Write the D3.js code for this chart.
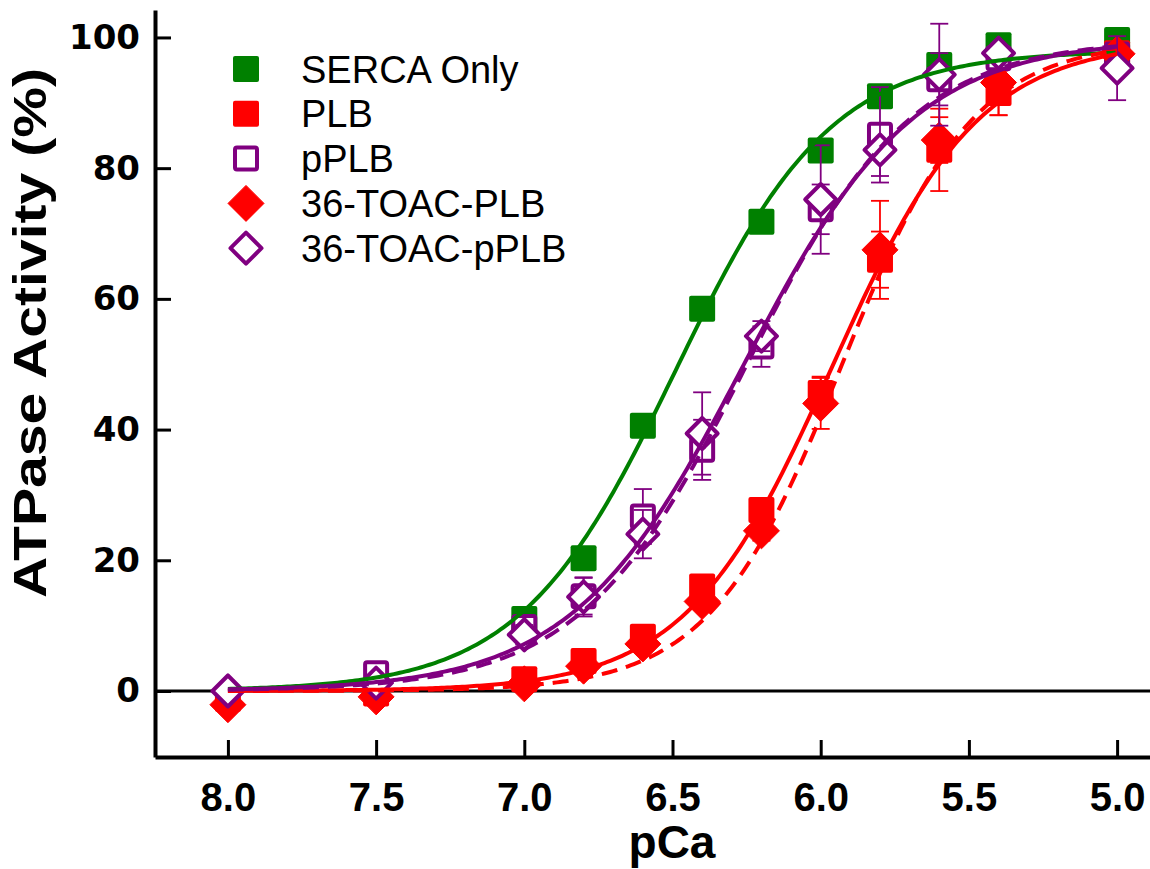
<!DOCTYPE html>
<html>
<head>
<meta charset="utf-8">
<script src="https://cdn.jsdelivr.net/npm/d3@7"></script>
<style>
  body { margin: 0; background: #fff; }
  svg { display: block; }
</style>
</head>
<body>
<svg id="chart" width="1150" height="869"></svg>
<script>
// Calcium dependence of SERCA ATPase activity
const pCa = [8.0, 7.5, 7.0, 6.8, 6.6, 6.4, 6.2, 6.0, 5.8, 5.6, 5.4, 5.0];

const sercaOnly    = [null, null, 11.0, 20.3, 40.6, 58.5, 71.8, 82.7, 91.0, 95.8, 98.8, 99.6];
const sercaErr     = [0, 0, 1.0, 1.0, 1.2, 1.0, 1.0, 1.2, 1.0, 1.0, 0.8, 0.6];

const plb          = [-1.2, -0.4, 1.8, 4.6, 8.3, 16.0, 27.7, 45.6, 66.0, 82.8, 91.5, 97.6];
const plbErr       = [0.5, 0.5, 0.8, 1.0, 1.0, 1.5, 1.5, 2.5, 4.3, 6.3, 3.4, 1.0];

const pplb         = [null, 2.7, 9.8, 14.5, 26.7, 36.9, 52.7, 73.7, 85.1, 93.6, 96.8, 97.4];
const pplbErr      = [0, 1.0, 1.5, 2.8, 4.2, 4.6, 3.1, 3.8, 7.3, 4.0, 1.0, 1.0];

const toacPlb      = [-2.1, -0.9, 1.1, 3.8, 7.2, 13.7, 24.5, 44.0, 67.5, 84.3, 93.1, 97.5];
const toacPlbErr   = [0.5, 0.5, 0.6, 0.8, 1.0, 1.2, 1.5, 3.9, 7.5, 3.5, 5.0, 1.0];

const toacPplb     = [0.0, 1.2, 8.6, 14.4, 24.0, 39.4, 54.3, 75.2, 82.8, 94.3, 97.6, 95.3];
const toacPplbErr  = [1.2, 1.0, 1.5, 3.0, 3.7, 6.3, 2.3, 8.3, 4.0, 7.8, 1.0, 4.9];

// Hill fit parameters: [pCa50, nH, Vmax]
const sercaFit    = [6.49, 1.65, 98.0];
const plbFit      = [5.96, 1.75, 99.5];
const pplbFit     = [6.26, 1.50, 99.8];
const toacPlbFit  = [5.93, 1.95, 99.5];
const toacPplbFit = [6.25, 1.55, 99.8];

const seriesNames = ["SERCA Only", "PLB", "pPLB", "36-TOAC-PLB", "36-TOAC-pPLB"];
const yTicks = [0, 20, 40, 60, 80, 100];
const xTicks = [8.0, 7.5, 7.0, 6.5, 6.0, 5.5, 5.0];

const GREEN = "#008000", RED = "#ff0000", PURPLE = "#800080";

const series = [
  { name: seriesNames[0], values: sercaOnly, err: sercaErr, fit: sercaFit, color: GREEN,  shape: "square",  filled: true,  dash: null },
  { name: seriesNames[1], values: plb,       err: plbErr,   fit: plbFit,   color: RED,    shape: "square",  filled: true,  dash: null },
  { name: seriesNames[2], values: pplb,      err: pplbErr,  fit: pplbFit,  color: PURPLE, shape: "square",  filled: false, dash: null },
  { name: seriesNames[3], values: toacPlb,   err: toacPlbErr, fit: toacPlbFit, color: RED, shape: "diamond", filled: true, dash: "16,9" },
  { name: seriesNames[4], values: toacPplb,  err: toacPplbErr, fit: toacPplbFit, color: PURPLE, shape: "diamond", filled: false, dash: "16,9" }
];

const svg = d3.select("#chart");

const x = d3.scaleLinear().domain([8.246, 4.889]).range([155, 1150]);
const y = d3.scaleLinear().domain([-10.1, 104.2]).range([757, 10]);

// zero reference line
svg.append("line")
  .attr("x1", x.range()[0]).attr("x2", x.range()[1])
  .attr("y1", y(0)).attr("y2", y(0))
  .attr("stroke", "#000").attr("stroke-width", 3);

// axes
const yAxis = d3.axisLeft(y).tickValues(yTicks).tickSize(-16).tickSizeOuter(0).tickPadding(15)
  .tickFormat(d3.format("d"));
const xAxis = d3.axisBottom(x).tickValues(xTicks).tickSize(-17).tickSizeOuter(0).tickPadding(26)
  .tickFormat(d3.format(".1f"));

const gy = svg.append("g").attr("transform", `translate(${x.range()[0]},0)`).call(yAxis);
const gx = svg.append("g").attr("transform", `translate(0,${y.range()[0]})`).call(xAxis);

[gx, gy].forEach(g => {
  g.select(".domain").attr("stroke", "#000").attr("stroke-width", 4);
  g.selectAll(".tick line").attr("stroke", "#000").attr("stroke-width", 3);
});
gy.selectAll(".tick text")
  .attr("fill", "#000")
  .style("font-family", "'DejaVu Sans', sans-serif")
  .style("font-weight", "bold")
  .style("font-size", "34px");
gx.selectAll(".tick text")
  .attr("fill", "#000")
  .style("font-family", "'Liberation Sans', Arial, sans-serif")
  .style("font-weight", "bold")
  .style("font-size", "40px");

// axis titles
svg.append("text")
  .attr("transform", "translate(46,333) rotate(-90)")
  .attr("text-anchor", "middle")
  .attr("textLength", 530)
  .attr("lengthAdjust", "spacingAndGlyphs")
  .style("font-family", "'Liberation Sans', Arial, sans-serif")
  .style("font-weight", "bold")
  .style("font-size", "46px")
  .text("ATPase Activity (%)");

svg.append("text")
  .attr("x", 672).attr("y", 858)
  .attr("text-anchor", "middle")
  .style("font-family", "'Liberation Sans', Arial, sans-serif")
  .style("font-weight", "bold")
  .style("font-size", "46px")
  .text("pCa");

// marker drawing
function drawMarker(g, s, cx, cy) {
  const sw = 4;
  if (s.shape === "square") {
    const side = s.filled ? 26 : 22;
    g.append("rect")
      .attr("x", cx - side / 2).attr("y", cy - side / 2)
      .attr("width", side).attr("height", side)
      .attr("rx", 2)
      .attr("fill", s.filled ? s.color : "#fff")
      .attr("stroke", s.color)
      .attr("stroke-width", s.filled ? 0 : sw);
  } else {
    const r = s.filled ? 18 : 15.5;
    g.append("path")
      .attr("d", `M${cx},${cy - r}L${cx + r},${cy}L${cx},${cy + r}L${cx - r},${cy}Z`)
      .attr("fill", s.filled ? s.color : "#fff")
      .attr("stroke", s.color)
      .attr("stroke-width", s.filled ? 1 : sw)
      .attr("stroke-linejoin", "round");
  }
}

// error bars and markers, series by series
series.forEach(s => {
  const g = svg.append("g");
  pCa.forEach((p, i) => {
    const v = s.values[i];
    if (v === null) return;
    const e = s.err[i];
    const cx = x(p);
    if (e > 0) {
      const eb = g.append("g").attr("stroke", s.color).attr("stroke-width", 1.8);
      eb.append("line").attr("x1", cx).attr("x2", cx).attr("y1", y(v - e)).attr("y2", y(v + e));
      eb.append("line").attr("x1", cx - 9).attr("x2", cx + 9).attr("y1", y(v - e)).attr("y2", y(v - e));
      eb.append("line").attr("x1", cx - 9).attr("x2", cx + 9).attr("y1", y(v + e)).attr("y2", y(v + e));
    }
  });
  pCa.forEach((p, i) => {
    const v = s.values[i];
    if (v === null) return;
    drawMarker(g, s, x(p), y(v));
  });
});

// Hill fit curves
const hill = (p, f) => f[2] / (1 + Math.pow(10, f[1] * (p - f[0])));
const grid = d3.range(8.0, 4.999, -0.01);
const line = d3.line().x(d => x(d[0])).y(d => y(d[1])).curve(d3.curveLinear);

series.forEach(s => {
  svg.append("path")
    .datum(grid.map(p => [p, hill(p, s.fit)]))
    .attr("d", line)
    .attr("fill", "none")
    .attr("stroke", s.color)
    .attr("stroke-width", 4)
    .attr("stroke-dasharray", s.dash);
});

// legend
const legend = svg.append("g");
series.forEach((s, i) => {
  const cy = 69 + i * 44.8;
  drawMarker(legend, s, 246, cy);
  legend.append("text")
    .attr("x", 301).attr("y", cy + 13.5)
    .style("font-family", "'Liberation Sans', Arial, sans-serif")
    .style("font-size", "38px")
    .attr("fill", "#000")
    .text(s.name);
});
</script>
</body>
</html>
